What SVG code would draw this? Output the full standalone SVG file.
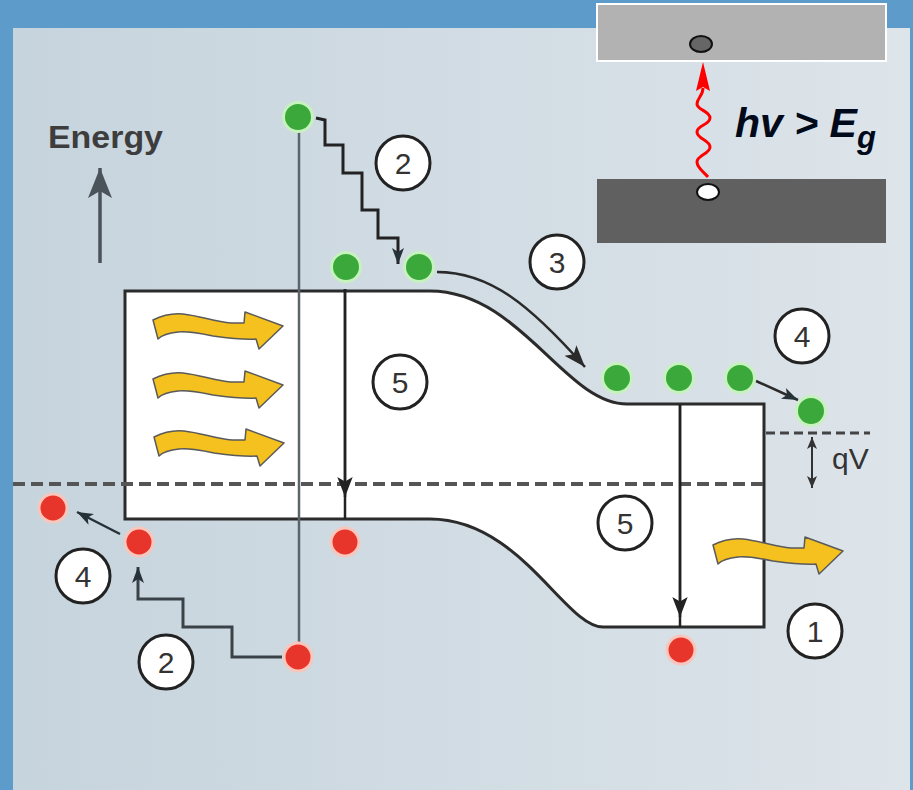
<svg xmlns="http://www.w3.org/2000/svg" width="913" height="790" viewBox="0 0 913 790">
<defs>
<linearGradient id="bg" x1="0" y1="0" x2="1" y2="0">
<stop offset="0" stop-color="#c6d4dd"/>
<stop offset="1" stop-color="#dde4ea"/>
</linearGradient>
<marker id="ahBig" markerUnits="userSpaceOnUse" markerWidth="20" markerHeight="26" viewBox="0 0 26 20" refX="26" refY="10" orient="auto">
<path d="M0,0 L26,10 L0,20 L6,10 Z" fill="#222"/>
</marker>
<marker id="ahMed" markerUnits="userSpaceOnUse" markerWidth="22" markerHeight="22" viewBox="0 0 22 16" refX="22" refY="8" orient="auto">
<path d="M0,0 L22,8 L0,16 L5,8 Z" fill="#2a2a2a"/>
</marker>
<marker id="ahSm" markerUnits="userSpaceOnUse" markerWidth="16" markerHeight="16" viewBox="0 0 16 12" refX="16" refY="6" orient="auto">
<path d="M0,0 L16,6 L0,12 L4,6 Z" fill="#263238"/>
</marker>
<marker id="ahQ" markerUnits="userSpaceOnUse" markerWidth="12" markerHeight="12" viewBox="0 0 12 10" refX="12" refY="5" orient="auto">
<path d="M0,0 L12,5 L0,10 L3,5 Z" fill="#333"/>
</marker>
<marker id="ahE" markerUnits="userSpaceOnUse" markerWidth="30" markerHeight="30" viewBox="0 0 30 24" refX="30" refY="12" orient="auto">
<path d="M0,0 L30,12 L0,24 L7,12 Z" fill="#4a525a"/>
</marker>
<path id="wave" d="M0,-1 C10,-6 20,-8 30,-7 C48,-5 62,1 78,2 C84,2 88,2 91,2 L92,-9 L130,5 L106,28 L103,18 C90,19 75,17 60,15 C45,12 35,10 25,11 C15,12 9,14 5,18 Z"/>
<style>
.el circle{fill:#3aa83a;stroke:#c6f2bd;stroke-width:3}
.ho circle{fill:#e8352b;stroke:#f8c6bd;stroke-width:3}
.num circle{fill:#fff;stroke:#222;stroke-width:3}
.num text{font-family:"Liberation Sans",Arial,sans-serif;font-size:30px;fill:#333;text-anchor:middle}
.ph use{fill:#f5c11e;stroke:#5a5a5a;stroke-width:1.5;stroke-linejoin:round}
.conn path,.conn line{fill:none}
</style>
</defs>

<!-- frame and panel -->
<rect x="0" y="0" width="913" height="790" fill="#5d9bcb"/>
<rect x="13" y="28" width="897" height="762" fill="url(#bg)"/>

<!-- band diagram -->
<g id="band">
<path d="M125,291 L430,291 C520,291 565,404 627,404 L764,404 L764,627 L603,627 C565,627 520,519 430,519 L125,519 Z" fill="#fff" stroke="#2b2b2b" stroke-width="3"/>
</g>

<!-- Energy axis -->
<g id="energy">
<line x1="100" y1="263" x2="100" y2="168" stroke="#4a525a" stroke-width="3.5" marker-end="url(#ahE)"/>
<text x="48" y="148" font-family="Liberation Sans,Arial,sans-serif" font-size="31" font-weight="bold" fill="#3d3d3d" textLength="115" lengthAdjust="spacingAndGlyphs">Energy</text>
</g>

<!-- Fermi levels -->
<g id="fermi">
<line x1="13" y1="484" x2="764" y2="484" stroke="#555" stroke-width="4" stroke-dasharray="12,6"/>
<line x1="766" y1="433" x2="870" y2="433" stroke="#444" stroke-width="3" stroke-dasharray="9,5"/>
<text x="832" y="469" font-family="Liberation Sans,Arial,sans-serif" font-size="30" fill="#333">qV</text>
</g>

<!-- connectors -->
<g id="connectors" class="conn">
<line x1="299" y1="117" x2="299" y2="657" stroke="#5b636b" stroke-width="2.5"/>
<line x1="345" y1="289" x2="345" y2="519" stroke="#222" stroke-width="2.5"/>
<line x1="345" y1="289" x2="345" y2="497" stroke="#222" stroke-width="2.5" marker-end="url(#ahBig)"/>
<line x1="680" y1="404" x2="680" y2="627" stroke="#222" stroke-width="2.5"/>
<line x1="680" y1="404" x2="680" y2="617" stroke="#222" stroke-width="2.5" marker-end="url(#ahBig)"/>
<path d="M316,118 L325,120 L325,145 L343,145 L343,173 L362,173 L362,210 L378,210 L378,238 L398,238 L398,264" stroke="#222" stroke-width="3" marker-end="url(#ahSm)"/>
<path d="M282,657 L232,657 L232,627 L183,627 L183,599 L138,599 L138,567" stroke="#3a4248" stroke-width="3" marker-end="url(#ahSm)"/>
<path d="M437,272 C490,272 530,305 585,367" stroke="#2a2a2a" stroke-width="2.5" marker-end="url(#ahMed)"/>
<line x1="756" y1="381" x2="798" y2="400" stroke="#2a2a2a" stroke-width="2.5" marker-end="url(#ahSm)"/>
<line x1="120" y1="534" x2="77" y2="512" stroke="#263238" stroke-width="2.5" marker-end="url(#ahSm)"/>
<line x1="812" y1="462" x2="812" y2="437" stroke="#333" stroke-width="2" marker-end="url(#ahQ)"/>
<line x1="812" y1="462" x2="812" y2="488" stroke="#333" stroke-width="2" marker-end="url(#ahQ)"/>
</g>

<!-- photons -->
<g id="photons" class="ph">
<use href="#wave" x="153" y="321"/>
<use href="#wave" x="153" y="380"/>
<use href="#wave" x="154" y="438"/>
<use href="#wave" x="713" y="546"/>
</g>

<!-- electrons -->
<g id="electrons" class="el">
<circle id="e1" cx="298" cy="117" r="14.5"/>
<circle id="e2" cx="346" cy="267" r="14.5"/>
<circle id="e3" cx="419" cy="267" r="14.5"/>
<circle id="e4" cx="617" cy="378" r="14.5"/>
<circle id="e5" cx="679" cy="378" r="14.5"/>
<circle id="e6" cx="740" cy="378" r="14.5"/>
<circle id="e7" cx="811" cy="411" r="14.5"/>
</g>

<!-- holes -->
<g id="holes" class="ho">
<circle id="h1" cx="53" cy="508" r="14"/>
<circle id="h2" cx="139" cy="542" r="14"/>
<circle id="h3" cx="345" cy="542" r="14"/>
<circle id="h4" cx="298" cy="657" r="14"/>
<circle id="h5" cx="681" cy="650" r="14"/>
</g>

<!-- step labels -->
<g id="label-2a" class="num"><circle cx="403" cy="163" r="27"/><text x="403" y="174">2</text></g>
<g id="label-3" class="num"><circle cx="557" cy="262" r="27"/><text x="557" y="273">3</text></g>
<g id="label-4a" class="num"><circle cx="802" cy="336" r="27"/><text x="802" y="347">4</text></g>
<g id="label-5a" class="num"><circle cx="400" cy="382" r="27"/><text x="400" y="393">5</text></g>
<g id="label-5b" class="num"><circle cx="625" cy="523" r="27"/><text x="625" y="534">5</text></g>
<g id="label-4b" class="num"><circle cx="83" cy="576" r="27"/><text x="83" y="587">4</text></g>
<g id="label-2b" class="num"><circle cx="166" cy="662" r="27"/><text x="166" y="673">2</text></g>
<g id="label-1" class="num"><circle cx="815" cy="631" r="27"/><text x="815" y="642">1</text></g>

<!-- inset -->
<g id="inset">
<rect x="597" y="4" width="289" height="57" fill="#b2b2b2" stroke="#fff" stroke-width="2"/>
<rect x="597" y="179" width="289" height="64" fill="#606060"/>
<ellipse cx="701" cy="44" rx="11" ry="8" fill="#666" stroke="#111" stroke-width="2"/>
<ellipse cx="708" cy="192" rx="11" ry="8" fill="#fff" stroke="#111" stroke-width="2"/>
<path d="M708,177 C704,172 697,168 697,162 C697,155 710,154 710,147 C710,140 697,139 697,132 C697,125 710,125 710,118 C710,111 697,110 697,104 C697,98 703,96 703,88" fill="none" stroke="#ff0000" stroke-width="3"/>
<path d="M703,62 L710,91 L703,87 L696,91 Z" fill="#ff0000"/>
<text x="735" y="137" font-family="Liberation Sans,Arial,sans-serif" font-size="41" font-weight="bold" font-style="italic" fill="#000a1a">hv &gt; E<tspan font-size="31" dy="11">g</tspan></text>
</g>
</svg>
